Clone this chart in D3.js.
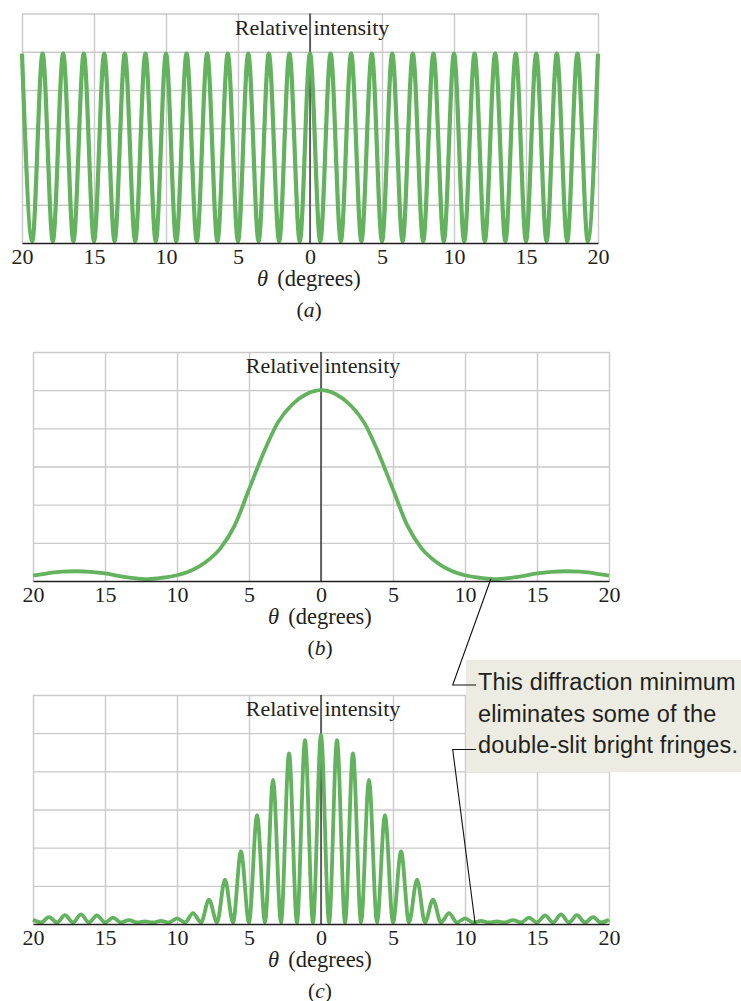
<!DOCTYPE html>
<html><head><meta charset="utf-8">
<script src="https://cdn.jsdelivr.net/npm/d3@7"></script>
<style>
body{margin:0;background:#fff}
svg{display:block}
</style>
</head><body>
<svg id="chart" width="741" height="1001"></svg>
<script>
// ---------- data ----------
const xTickValues = [-20, -15, -10, -5, 0, 5, 10, 15, 20];
const yGridValues = [0.2, 0.4, 0.6, 0.8, 1.0, 1.2];
const yTitle = "Relative intensity";
const xTitle = "(degrees)";
const panelLetters = ["a", "b", "c"];
const noteLines = ["This diffraction minimum", "eliminates some of the", "double-slit bright fringes."];

// (a) double-slit interference: extrema
const thetaA = [-20,-19.29,-18.57,-17.86,-17.14,-16.43,-15.71,-15,-14.29,-13.57,-12.86,-12.14,-11.43,-10.71,-10,-9.29,-8.57,-7.86,-7.14,-6.43,-5.71,-5,-4.29,-3.57,-2.86,-2.14,-1.43,-0.71,0,0.71,1.43,2.14,2.86,3.57,4.29,5,5.71,6.43,7.14,7.86,8.57,9.29,10,10.71,11.43,12.14,12.86,13.57,14.29,15,15.71,16.43,17.14,17.86,18.57,19.29,20];
const intensityA = [0.99,0.01,0.99,0.01,0.99,0.01,0.99,0.01,0.99,0.01,0.99,0.01,0.99,0.01,0.99,0.01,0.99,0.01,0.99,0.01,0.99,0.01,0.99,0.01,0.99,0.01,0.99,0.01,0.99,0.01,0.99,0.01,0.99,0.01,0.99,0.01,0.99,0.01,0.99,0.01,0.99,0.01,0.99,0.01,0.99,0.01,0.99,0.01,0.99,0.01,0.99,0.01,0.99,0.01,0.99,0.01,0.99];

// (b) single-slit diffraction envelope
const thetaB = [-20,-19,-18,-17,-16,-15,-14,-13,-12,-11,-10,-9,-8,-7,-6,-5,-4,-3,-2,-1,0,1,2,3,4,5,6,7,8,9,10,11,12,13,14,15,16,17,18,19,20];
const intensityB = [0.028,0.04,0.049,0.051,0.048,0.04,0.026,0.015,0.01,0.017,0.03,0.055,0.10,0.17,0.29,0.48,0.67,0.83,0.925,0.98,1.0,0.98,0.925,0.83,0.67,0.48,0.29,0.17,0.10,0.055,0.03,0.017,0.01,0.015,0.026,0.04,0.048,0.051,0.049,0.04,0.028];

// (c) combined pattern: extrema
const thetaC = [-20,-19.44,-18.89,-18.33,-17.78,-17.22,-16.67,-16.11,-15.56,-15,-14.44,-13.89,-13.33,-12.78,-12.22,-11.67,-11.11,-10.56,-10,-9.44,-8.89,-8.33,-7.78,-7.22,-6.67,-6.11,-5.56,-5,-4.44,-3.89,-3.33,-2.78,-2.22,-1.67,-1.11,-0.56,0,0.56,1.11,1.67,2.22,2.78,3.33,3.89,4.44,5,5.56,6.11,6.67,7.22,7.78,8.33,8.89,9.44,10,10.56,11.11,11.67,12.22,12.78,13.33,13.89,14.44,15,15.56,16.11,16.67,17.22,17.78,18.33,18.89,19.44,20];
const intensityC = [0.022,0.008,0.036,0.008,0.046,0.008,0.05,0.008,0.045,0.008,0.033,0.008,0.02,0.008,0.013,0.008,0.016,0.008,0.03,0.008,0.057,0.008,0.128,0.008,0.233,0.008,0.38,0.008,0.57,0.008,0.755,0.008,0.894,0.008,0.963,0.008,0.99,0.008,0.963,0.008,0.894,0.008,0.755,0.008,0.57,0.008,0.38,0.008,0.233,0.008,0.128,0.008,0.057,0.008,0.03,0.008,0.016,0.008,0.013,0.008,0.02,0.008,0.033,0.008,0.045,0.008,0.05,0.008,0.046,0.008,0.036,0.008,0.022];

// ---------- drawing ----------
const svg = d3.select("#chart");
const GREEN = "#63b25d";
const INK = "#231f20";
const GRID = "#c9c9c9";
const SERIF = "'Liberation Serif', 'DejaVu Serif', serif";
const SANS = "'Liberation Sans', Arial, sans-serif";

const panels = [
  {left: 22, top: 13.5, h: 229.5, theta: thetaA, val: intensityA, sw: 4.2},
  {left: 33, top: 352, h: 229, theta: thetaB, val: intensityB, sw: 3.8},
  {left: 33, top: 695, h: 229, theta: thetaC, val: intensityC, sw: 3.8}
];
const W = 576;

const scales = [];
panels.forEach((p, i) => {
  const x = d3.scaleLinear().domain([-20, 20]).range([0, W]);
  const y = d3.scaleLinear().domain([0, 1.2]).range([p.h, 0]);
  scales.push({x, y, p});
  const g = svg.append("g").attr("transform", `translate(${p.left},${p.top})`);

  // horizontal grid
  const gy = g.append("g").call(d3.axisLeft(y).tickValues(yGridValues).tickSize(-W).tickFormat(""));
  gy.select(".domain").remove();
  gy.selectAll("line").attr("stroke", GRID).attr("stroke-width", 1.4);

  // vertical grid
  const gx = g.append("g").attr("transform", `translate(0,${p.h})`)
    .call(d3.axisBottom(x).tickValues(xTickValues).tickSize(-p.h).tickFormat(""));
  gx.select(".domain").remove();
  gx.selectAll("line").attr("stroke", GRID).attr("stroke-width", 1.4);

  // central vertical axis
  g.append("line").attr("x1", x(0)).attr("x2", x(0)).attr("y1", 0).attr("y2", p.h)
    .attr("stroke", "#111").attr("stroke-width", 1.2);

  // y title
  g.append("text").attr("x", x(0) + 2).attr("y", 21)
    .attr("text-anchor", "middle").attr("font-family", SERIF).attr("font-size", 22)
    .attr("fill", INK).text(yTitle);

  // curve
  const pts = p.theta.map((t, k) => [t, p.val[k]]);
  g.append("path").datum(pts)
    .attr("fill", "none").attr("stroke", GREEN).attr("stroke-width", p.sw)
    .attr("stroke-linejoin", "round")
    .attr("d", d3.line().x(d => x(d[0])).y(d => y(d[1])).curve(d3.curveMonotoneX));

  // bottom axis
  const ax = g.append("g").attr("transform", `translate(0,${p.h})`)
    .call(d3.axisBottom(x).tickValues(xTickValues).tickSize(0).tickPadding(5).tickFormat(d => Math.abs(d)));
  ax.select(".domain").attr("stroke", INK).attr("stroke-width", 1.6);
  ax.selectAll("text").attr("font-family", SERIF).attr("font-size", 22).attr("fill", INK);

  // x title
  const xt = g.append("text").attr("x", x(0) - 1).attr("y", p.h + 43)
    .attr("text-anchor", "middle").attr("font-family", SERIF).attr("font-size", 22.5).attr("fill", INK);
  xt.append("tspan").attr("font-style", "italic").text("θ");
  xt.append("tspan").attr("dx", 9).text(xTitle);

  // panel caption
  const cap = g.append("text").attr("x", x(0) - 1).attr("y", p.h + 74)
    .attr("text-anchor", "middle").attr("font-family", SERIF).attr("font-size", 21.5).attr("fill", INK);
  cap.append("tspan").text("(");
  cap.append("tspan").attr("font-style", "italic").text(panelLetters[i]);
  cap.append("tspan").text(")");
});

// ---------- annotation ----------
const note = svg.append("g");
note.append("rect").attr("x", 466).attr("y", 660).attr("width", 290).attr("height", 112)
  .attr("fill", "#ecece2");
noteLines.forEach((s, k) => {
  note.append("text").attr("x", 478).attr("y", 690 + k * 31.7)
    .attr("font-family", SANS).attr("font-size", 23.5).attr("letter-spacing", 0.15)
    .attr("fill", INK).text(s);
});

// leader lines to the diffraction minimum in (b) and the missing fringe in (c)
const sb = scales[1], sc = scales[2];
const targetB = [sb.p.left + sb.x(11.8), sb.p.top + sb.y(0.012)];
const targetC = [sc.p.left + sc.x(10.7), sc.p.top + sc.y(0.004)];
note.append("path")
  .attr("d", d3.line()([[476, 685], [452.7, 685], targetB]))
  .attr("fill", "none").attr("stroke", "#111").attr("stroke-width", 1.1);
note.append("path")
  .attr("d", d3.line()([[476, 749.5], [452.7, 749.5], targetC]))
  .attr("fill", "none").attr("stroke", "#111").attr("stroke-width", 1.1);
</script>
</body></html>
